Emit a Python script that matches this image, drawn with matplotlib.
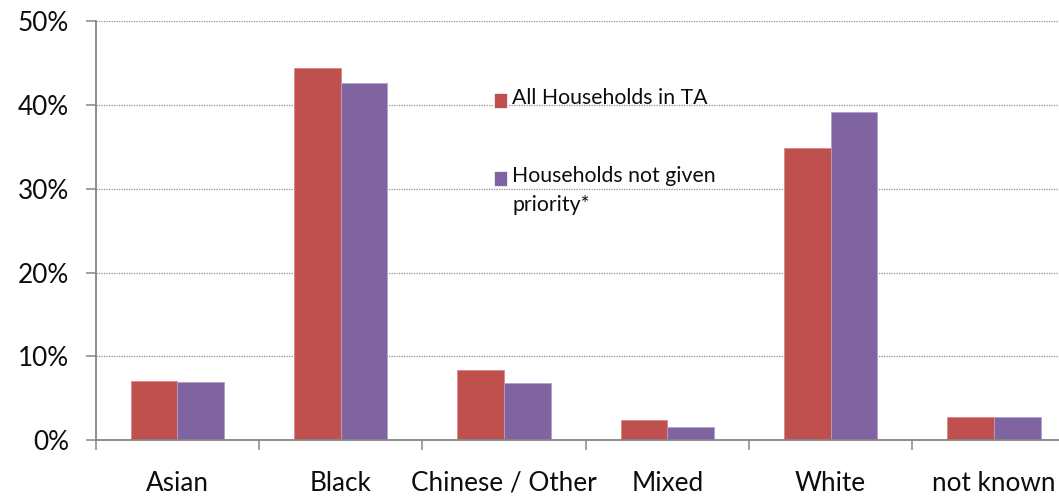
import matplotlib
matplotlib.use("Agg")
import matplotlib.pyplot as plt
from matplotlib.patches import Rectangle
import numpy as np

categories = ["Asian", "Black", "Chinese / Other", "Mixed", "White", "not known"]
all_households = [7.1, 44.4, 8.4, 2.35, 34.9, 2.7]
not_priority = [6.9, 42.6, 6.8, 1.6, 39.2, 2.7]
series_names = ["All Households in TA", "Households not given\npriority*"]
y_ticks = [0, 10, 20, 30, 40, 50]

RED = "#C0504D"
PURPLE = "#8064A2"
AXIS_GREY = "#868686"
TEXT = "#0d0d0d"
FONT = "Lato"

W, H = 1059, 499
fig = plt.figure(figsize=(W / 100, H / 100), dpi=100)
ax = fig.add_axes([95.7 / W, 1 - 440 / H, 979.8 / W, 418.7 / H])

x = np.arange(len(categories))
bw = 0.286
ax.bar(x - bw / 2, all_households, width=bw, color=RED, edgecolor="#d98986",
       linewidth=0.6, zorder=3)
ax.bar(x + bw / 2, not_priority, width=bw, color=PURPLE, edgecolor="#b2a1c7",
       linewidth=0.6, zorder=3)

ax.set_xlim(-0.5, len(categories) - 0.5)
ax.set_ylim(0, 50)

ax.set_yticks(y_ticks)
ax.set_yticklabels([f"{v}%" for v in y_ticks], fontfamily=FONT, fontsize=18.8,
                   color=TEXT)
ax.yaxis.grid(True, linestyle=(0, (1, 1)), color="#8c8c8c", linewidth=0.9,
              zorder=0)
ax.tick_params(axis="y", length=7.2, width=1.1, color=AXIS_GREY, pad=12)

ax.set_xticks(x)
ax.set_xticklabels(categories, fontfamily=FONT, fontsize=18.8, color=TEXT)
ax.set_xticks(np.arange(-0.5, len(categories)), minor=True)
ax.tick_params(axis="x", which="major", length=0, pad=22)
ax.tick_params(axis="x", which="minor", length=7.2, width=1.1,
               color=AXIS_GREY)

for side in ("top", "right"):
    ax.spines[side].set_visible(False)
for side in ("left", "bottom"):
    ax.spines[side].set_color(AXIS_GREY)
    ax.spines[side].set_linewidth(1.3)
ax.spines["left"].set_zorder(4)
ax.spines["bottom"].set_zorder(4)

# legend drawn in figure pixel space
def fx(px):
    return px / W

def fy(py):
    return 1 - py / H

legend_rows = [(RED, series_names[0], 93), (PURPLE, series_names[1], 171)]
for color, label, top in legend_rows:
    fig.patches.append(Rectangle((fx(494), fy(top + 15)), 13 / W, 15 / H,
                                 transform=fig.transFigure, facecolor=color,
                                 edgecolor="white", linewidth=0.5))
    fig.text(fx(512), fy(top - 5), label, fontfamily=FONT, fontsize=15.3,
             color=TEXT, va="top", ha="left", linespacing=1.55)

fig.savefig("out.png", dpi=100)
